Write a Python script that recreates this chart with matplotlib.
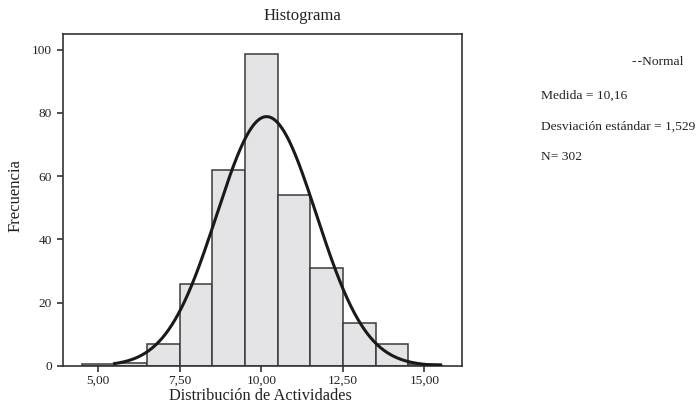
import numpy as np
import matplotlib
matplotlib.use("Agg")
import matplotlib.pyplot as plt
from matplotlib.ticker import FuncFormatter

plt.rcParams['font.family'] = ['Liberation Serif', 'DejaVu Serif']

# Data
bin_edges = [4.5, 5.5, 6.5, 7.5, 8.5, 9.5, 10.5, 11.5, 12.5, 13.5, 14.5, 15.5]
counts = [0.5, 1, 7, 26, 62, 98.5, 54, 31, 13.5, 7, 0.5]
mean = 10.16
std = 1.529
n = 302
x_ticks = [5.0, 7.5, 10.0, 12.5, 15.0]
y_ticks = [0, 20, 40, 60, 80, 100]

fig = plt.figure(figsize=(6.98, 4.03), dpi=100)
ax = fig.add_axes([63/698, 1-366/403, (462-63)/698, (366-34)/403])

lefts = bin_edges[:-1]
widths = np.diff(bin_edges)
ax.bar(lefts, counts, width=widths, align='edge', color='#e4e4e6',
       edgecolor='#3a3a3a', linewidth=1.1, zorder=2)

xs = np.linspace(bin_edges[1], bin_edges[-1], 400)
binw = widths[0]
ys = n * binw / (std * np.sqrt(2*np.pi)) * np.exp(-0.5*((xs-mean)/std)**2)
ax.plot(xs, ys, color='#1a1a1a', linewidth=2.2, zorder=3)

ax.set_xlim(3.92, 16.15)
ax.set_ylim(0, 104.9)
ax.set_xticks(x_ticks)
ax.set_yticks(y_ticks)
ax.xaxis.set_major_formatter(FuncFormatter(lambda v, p: f"{v:.2f}".replace('.', ',')))
ax.tick_params(axis='both', direction='out', length=4, width=1.1,
               labelsize=9.6, color='#222222', labelcolor='#222222')
ax.tick_params(axis='x', pad=2)
ax.tick_params(axis='y', pad=4)
for s in ax.spines.values():
    s.set_color('#333333')
    s.set_linewidth(1.2)

fig.text(302/698, 1-16/403, 'Histograma', ha='center', va='center', fontsize=12, color='#222222')
fig.text(260/698, 1-399.5/403, 'Distribución de Actividades', ha='center', va='baseline', fontsize=11.8, color='#222222')
fig.text(16/698, 1-196/403, 'Frecuencia', ha='center', va='center', rotation=90, fontsize=12, color='#222222')

fig.text(683/698, 1-62/403, '-\u200a-Normal', ha='right', va='center', fontsize=9.7, color='#222222')
fig.text(541/698, 1-96/403, 'Medida = 10,16', ha='left', va='center', fontsize=9.7, color='#222222')
fig.text(541/698, 1-127/403, 'Desviación estándar = 1,529', ha='left', va='center', fontsize=9.7, color='#222222')
fig.text(541/698, 1-157/403, 'N= 302', ha='left', va='center', fontsize=9.7, color='#222222')

fig.savefig('out.png', dpi=100)
